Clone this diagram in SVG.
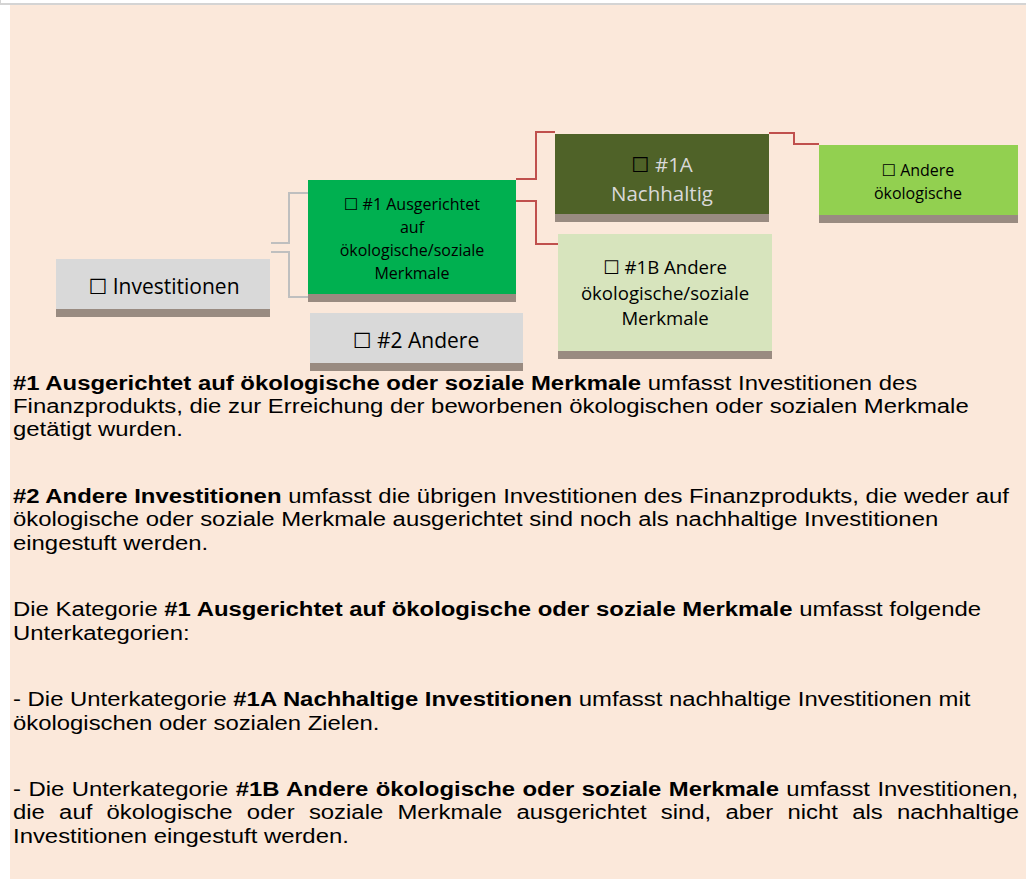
<svg xmlns="http://www.w3.org/2000/svg" width="1026" height="879" viewBox="0 0 1026 879">
  <style>
    .nt { font-family: "Open Sans", "DejaVu Sans", sans-serif; text-anchor: middle; fill: #000; }
    .lt { fill: #D9D9D9; }
    .bx { fill: #000; }
    .sh { fill: #998B81; }
    .cg { fill: none; stroke: #BFBFBF; stroke-width: 2; }
    .cr { fill: none; stroke: #C0504D; stroke-width: 2; }
    .body { font-family: "Liberation Sans", Arial, sans-serif; font-size: 19.5px; fill: #000; }
    .b { font-weight: bold; }
  </style>
  <rect x="0" y="0" width="1026" height="879" fill="#FFFFFF"/>
  <rect x="0" y="3" width="1026" height="2" fill="#D4D4D4"/>
  <rect x="0" y="0" width="1" height="4" fill="#D4D4D4"/>
  <rect x="10" y="5" width="1016" height="874" fill="#FBE8DA"/>

  <g id="connectors">
    <polyline class="cg" points="271,243 289,243 289,193 308,193"/>
    <polyline class="cg" points="271,252 289,252 289,297 308,297"/>
    <polyline class="cr" points="516,179 536,179 536,132 555,132"/>
    <polyline class="cr" points="516,201 536,201 536,244 558,244"/>
    <polyline class="cr" points="769,133 794,133 794,144 819,144"/>
  </g>

  <g id="node-investitionen">
    <rect x="56" y="259" width="214" height="50" fill="#D9D9D9"/>
    <rect class="sh" x="56" y="309" width="214" height="8"/>
    <text class="nt" x="164" y="294" font-size="21">☐ Investitionen</text>
  </g>

  <g id="node-1">
    <rect x="308" y="180" width="208" height="114" fill="#00B050"/>
    <rect class="sh" x="308" y="294" width="208" height="8"/>
    <text class="nt" x="412" y="210" font-size="16">☐ #1 Ausgerichtet</text>
    <text class="nt" x="412" y="233" font-size="16">auf</text>
    <text class="nt" x="412" y="256" font-size="16">ökologische/soziale</text>
    <text class="nt" x="412" y="279" font-size="16">Merkmale</text>
  </g>

  <g id="node-2">
    <rect x="310" y="313" width="213" height="50" fill="#D9D9D9"/>
    <rect class="sh" x="310" y="363" width="213" height="8"/>
    <text class="nt" x="416" y="347.5" font-size="21">☐ #2 Andere</text>
  </g>

  <g id="node-1a">
    <rect x="555" y="134" width="214" height="80" fill="#4F6228"/>
    <rect class="sh" x="555" y="214" width="214" height="8"/>
    <text class="nt" x="662" y="171.5" font-size="20.5"><tspan class="bx">☐</tspan><tspan class="lt"> #1A</tspan></text>
    <text class="nt lt" x="662" y="201" font-size="20.5">Nachhaltig</text>
  </g>

  <g id="node-1b">
    <rect x="558" y="234" width="214" height="117" fill="#D7E4BD"/>
    <rect class="sh" x="558" y="351" width="214" height="8"/>
    <text class="nt" x="665" y="274" font-size="18.6">☐ #1B Andere</text>
    <text class="nt" x="665" y="300" font-size="18.6">ökologische/soziale</text>
    <text class="nt" x="665" y="325" font-size="18.6">Merkmale</text>
  </g>

  <g id="node-andere-oekologische">
    <rect x="819" y="145" width="199" height="70" fill="#92D050"/>
    <rect class="sh" x="819" y="215" width="199" height="8"/>
    <text class="nt" x="918" y="176" font-size="16">☐ Andere</text>
    <text class="nt" x="918" y="199" font-size="16">ökologische</text>
  </g>

  <g id="body-text" transform="translate(13 0) scale(1.225 1)">
    <text class="body" x="0" y="390"><tspan class="b">#1 Ausgerichtet auf ökologische oder soziale Merkmale</tspan> umfasst Investitionen des</text>
    <text class="body" x="0" y="413">Finanzprodukts, die zur Erreichung der beworbenen ökologischen oder sozialen Merkmale</text>
    <text class="body" x="0" y="436.5">getätigt wurden.</text>

    <text class="body" x="0" y="503.5"><tspan class="b">#2 Andere Investitionen</tspan> umfasst die übrigen Investitionen des Finanzprodukts, die weder auf</text>
    <text class="body" x="0" y="526.5">ökologische oder soziale Merkmale ausgerichtet sind noch als nachhaltige Investitionen</text>
    <text class="body" x="0" y="550">eingestuft werden.</text>

    <text class="body" x="0" y="616.5">Die Kategorie <tspan class="b">#1 Ausgerichtet auf ökologische oder soziale Merkmale</tspan> umfasst folgende</text>
    <text class="body" x="0" y="640">Unterkategorien:</text>

    <text class="body" x="0" y="706.5">- Die Unterkategorie <tspan class="b">#1A Nachhaltige Investitionen</tspan> umfasst nachhaltige Investitionen mit</text>
    <text class="body" x="0" y="730">ökologischen oder sozialen Zielen.</text>

    <text class="body" x="0" y="796" word-spacing="0.65">- Die Unterkategorie <tspan class="b">#1B Andere ökologische oder soziale Merkmale</tspan> umfasst Investitionen,</text>
    <text class="body" x="0" y="819.5" word-spacing="6.2">die auf ökologische oder soziale Merkmale ausgerichtet sind, aber nicht als nachhaltige</text>
    <text class="body" x="0" y="843">Investitionen eingestuft werden.</text>
  </g>
</svg>
